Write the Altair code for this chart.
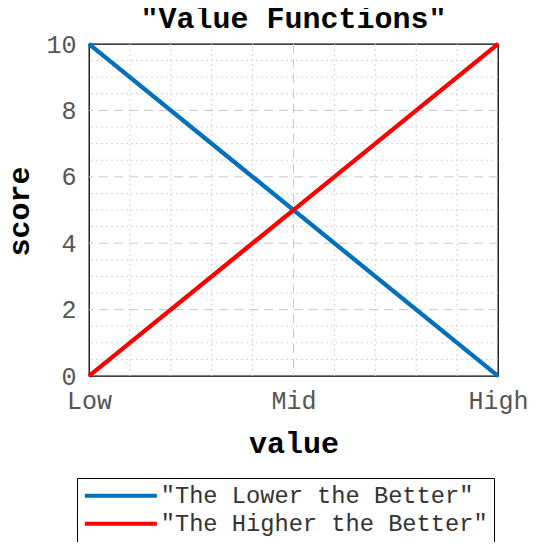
import altair as alt
import pandas as pd

# ---- data ----
x_pos = [0, 5, 10]
x_labels = ["Low", "Mid", "High"]
lower_better = [10, 5, 0]
higher_better = [0, 5, 10]
series = ['"The Lower the Better"', '"The Higher the Better"']
colors = ["#0072BD", "#FF0000"]
y_major = [0, 2, 4, 6, 8, 10]
y_major_grid = [2, 4, 6, 8]
x_major_grid = [5]
x_minor = [1, 2, 3, 4, 6, 7, 8, 9]
y_minor = [0.5, 1, 1.5, 2.5, 3, 3.5, 4.5, 5, 5.5, 6.5, 7, 7.5, 8.5, 9, 9.5]

df = pd.DataFrame({
    "x": x_pos + x_pos,
    "y": lower_better + higher_better,
    "s": [series[0]] * len(x_pos) + [series[1]] * len(x_pos),
})

FONT = "Liberation Mono"
xs = alt.Scale(domain=[0, 10], nice=False, zero=False)
ys = alt.Scale(domain=[0, 10], nice=False, zero=False)

label_expr = " : ".join(
    f"datum.value == {v} ? '{l}'" for v, l in zip(x_pos[:-1], x_labels[:-1])
) + f" : '{x_labels[-1]}'"

lines = alt.Chart(df).mark_line(strokeWidth=4).encode(
    x=alt.X("x:Q", scale=xs, axis=alt.Axis(
        values=x_pos, labelExpr=label_expr, grid=False, ticks=False,
        domain=False, labelFont=FONT, labelFontSize=25, labelColor="#555555",
        labelPadding=12, labelFlush=False,
        title="value", titleFont=FONT, titleFontSize=30, titleFontWeight="bold",
        titleColor="#000", titleX=204.5, titleY=67, titleBaseline="middle",
        titleAlign="center",
    )),
    y=alt.Y("y:Q", scale=ys, axis=alt.Axis(
        values=y_major, grid=False, ticks=False, domain=False,
        labelFont=FONT, labelFontSize=25, labelColor="#555555", labelPadding=13,
        labelFlush=False, labelBaseline="middle",
        title="score", titleFont=FONT, titleFontSize=30, titleFontWeight="bold",
        titleColor="#000", titleX=-70, titleY=167, titleAngle=270,
        titleBaseline="middle", titleAlign="center",
    )),
    color=alt.Color("s:N", scale=alt.Scale(domain=series, range=colors),
                    sort=series,
                    legend=alt.Legend(
                        title=None, orient="none", legendX=-12, legendY=434,
                        direction="vertical",
                        symbolType="M-6,0H6", symbolSize=144,
                        symbolOffset=26, symbolStrokeWidth=4,
                        labelFont=FONT, labelFontSize=23.7, labelLimit=600,
                        labelColor="#333", labelOffset=28, padding=6,
                        strokeColor="#000", fillColor="#fff", rowPadding=3,
                    )),
    detail="s:N",
)

minor_x = alt.Chart(pd.DataFrame({"x": x_minor})).mark_rule(
    color="#d4d4d4", strokeDash=[2, 3], strokeWidth=1
).encode(x=alt.X("x:Q", scale=xs))

minor_y = alt.Chart(pd.DataFrame({"y": y_minor})).mark_rule(
    color="#d4d4d4", strokeDash=[2, 3], strokeWidth=1
).encode(y=alt.Y("y:Q", scale=ys))

major_x = alt.Chart(pd.DataFrame({"x": x_major_grid})).mark_rule(
    color="#c8c8c8", strokeDash=[9, 6], strokeWidth=1
).encode(x=alt.X("x:Q", scale=xs))

major_y = alt.Chart(pd.DataFrame({"y": y_major_grid})).mark_rule(
    color="#c8c8c8", strokeDash=[9, 6], strokeWidth=1
).encode(y=alt.Y("y:Q", scale=ys))

chart = alt.layer(lines, minor_x, minor_y, major_x, major_y, lines).properties(
    width=409, height=332,
    title=alt.TitleParams('"Value Functions"', font=FONT, fontSize=30,
                          fontWeight="bold", color="#000", anchor="middle",
                          offset=3, dy=5),
    autosize=alt.AutoSizeParams(type="none"),
    padding={"left": 81, "top": 36, "right": 34, "bottom": 166},
).configure_view(stroke="#000", strokeWidth=1.3)

chart.save("out.html", embed_options={"renderer": "svg", "actions": False})
